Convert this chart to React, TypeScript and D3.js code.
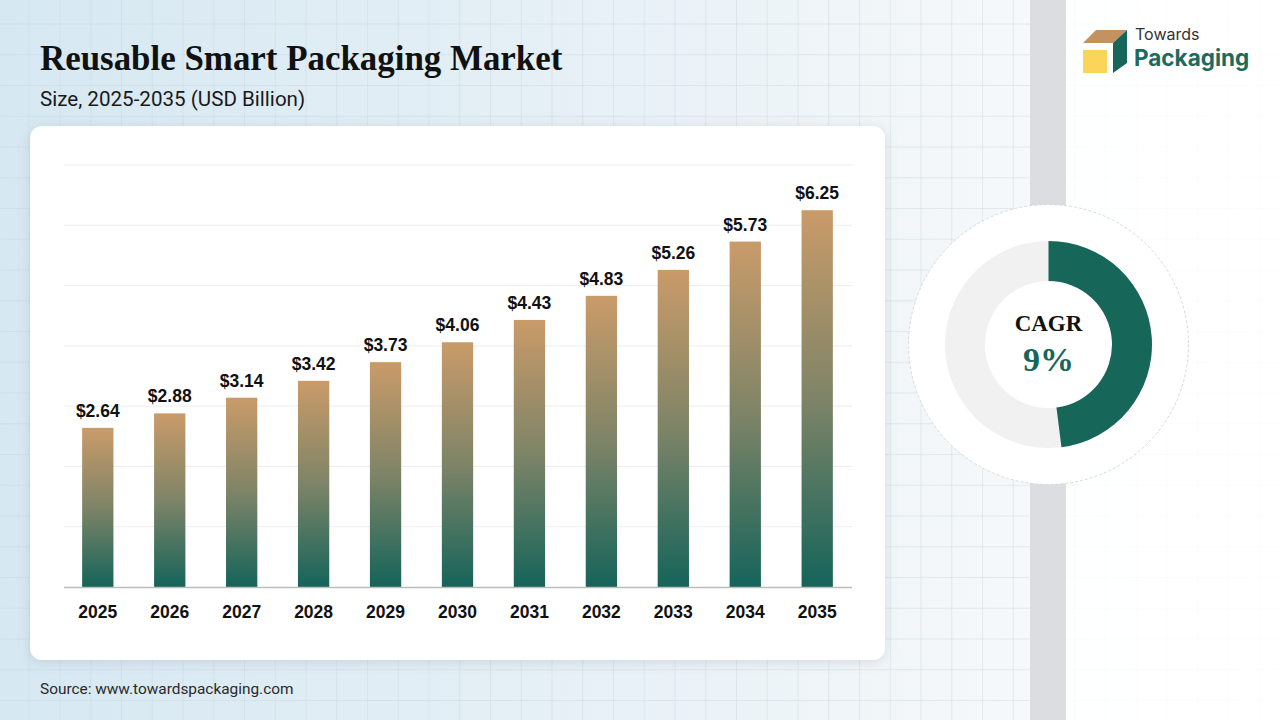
import { useEffect, useRef } from 'react';
import * as d3 from 'd3';

const years = ['2025', '2026', '2027', '2028', '2029', '2030', '2031', '2032', '2033', '2034', '2035'];
const marketSize = [2.64, 2.88, 3.14, 3.42, 3.73, 4.06, 4.43, 4.83, 5.26, 5.73, 6.25];
const yTicks = [0, 1, 2, 3, 4, 5, 6, 7];
const cagrLabel = 'CAGR';
const cagrValue = '9%';
const cagrArcShare = [0.48];

const W = 1280;
const H = 720;

export default function App() {
  const svgRef = useRef<SVGSVGElement>(null);

  useEffect(() => {
    if (!svgRef.current) return;
    const svg = d3.select(svgRef.current);
    svg.selectAll('*').remove();

    const defs = svg.append('defs');

    // page background
    const bg = defs.append('linearGradient').attr('id', 'bg').attr('x1', 0).attr('x2', 1).attr('y1', 0).attr('y2', 0);
    bg.append('stop').attr('offset', '0%').attr('stop-color', '#d6e8f2');
    bg.append('stop').attr('offset', '45%').attr('stop-color', '#e6f0f6');
    bg.append('stop').attr('offset', '78%').attr('stop-color', '#f5f8fa');
    bg.append('stop').attr('offset', '100%').attr('stop-color', '#ffffff');

    const barGrad = defs.append('linearGradient').attr('id', 'barGrad').attr('x1', 0).attr('x2', 0).attr('y1', 0).attr('y2', 1);
    barGrad.append('stop').attr('offset', '0%').attr('stop-color', '#ca9b69');
    barGrad.append('stop').attr('offset', '50%').attr('stop-color', '#7e8467');
    barGrad.append('stop').attr('offset', '100%').attr('stop-color', '#15645a');

    const shadow = defs.append('filter').attr('id', 'shadow').attr('x', '-10%').attr('y', '-10%').attr('width', '120%').attr('height', '120%');
    shadow.append('feDropShadow').attr('dx', 0).attr('dy', 2).attr('stdDeviation', 6).attr('flood-color', '#7a8a96').attr('flood-opacity', 0.25);

    svg.append('rect').attr('width', W).attr('height', H).attr('fill', 'url(#bg)');

    // faint background grid
    const gridStep = 30.75;
    const grid = svg.append('g').attr('stroke', '#c9d6de').attr('stroke-opacity', 0.45).attr('stroke-width', 1);
    d3.range(-1.5, W, gridStep).forEach(x => {
      grid.append('line').attr('x1', x).attr('x2', x).attr('y1', 0).attr('y2', H);
    });
    d3.range(24, H, gridStep).forEach(y => {
      grid.append('line').attr('x1', 0).attr('x2', W).attr('y1', y).attr('y2', y);
    });

    // right panel
    svg.append('rect').attr('x', 1066).attr('y', 0).attr('width', W - 1066).attr('height', H).attr('fill', '#ffffff').attr('fill-opacity', 0.85);
    svg.append('rect').attr('x', 1030).attr('y', 0).attr('width', 36).attr('height', H).attr('fill', '#dcdde1');

    // titles
    svg.append('text').attr('x', 40).attr('y', 70)
      .attr('font-family', '"Liberation Serif", "DejaVu Serif", serif').attr('font-weight', 700).attr('font-size', 34.9)
      .attr('fill', '#111').text('Reusable Smart Packaging Market');
    svg.append('text').attr('x', 40).attr('y', 106)
      .attr('font-family', 'Roboto, sans-serif').attr('font-size', 20.6)
      .attr('fill', '#1a1a1a').text('Size, 2025-2035 (USD Billion)');

    // card
    svg.append('rect').attr('x', 30).attr('y', 126).attr('width', 855).attr('height', 534).attr('rx', 12)
      .attr('fill', '#fff').attr('filter', 'url(#shadow)');

    const plotTop = 165;
    const plotBottom = 587;
    const x = d3.scaleBand().domain(years).range([62, 853]).paddingInner(0.565).paddingOuter(0.28);
    const y = d3.scaleLinear().domain([0, 7]).range([plotBottom, plotTop]);

    const plot = svg.append('g');
    plot.selectAll('.grid').data(yTicks.slice(1)).enter().append('line')
      .attr('x1', 64).attr('x2', 852).attr('y1', d => y(d)).attr('y2', d => y(d))
      .attr('stroke', '#ededed').attr('stroke-width', 1);

    plot.selectAll('.bar').data(marketSize).enter().append('rect')
      .attr('x', (_, i) => x(years[i]) || 0)
      .attr('y', d => y(d))
      .attr('width', x.bandwidth())
      .attr('height', d => plotBottom - y(d))
      .attr('fill', 'url(#barGrad)');

    plot.append('line').attr('x1', 64).attr('x2', 852).attr('y1', plotBottom + 0.5).attr('y2', plotBottom + 0.5)
      .attr('stroke', '#bdbdbd').attr('stroke-width', 1.5);

    plot.selectAll('.val').data(marketSize).enter().append('text')
      .attr('x', (_, i) => (x(years[i]) || 0) + x.bandwidth() / 2)
      .attr('y', d => y(d) - 11)
      .attr('text-anchor', 'middle')
      .attr('font-family', '"Liberation Sans", Arial, sans-serif').attr('font-weight', 700).attr('font-size', 17.5)
      .attr('fill', '#111')
      .text(d => `$${d.toFixed(2)}`);

    plot.selectAll('.yr').data(years).enter().append('text')
      .attr('x', d => (x(d) || 0) + x.bandwidth() / 2)
      .attr('y', 618)
      .attr('text-anchor', 'middle')
      .attr('font-family', '"Liberation Sans", Arial, sans-serif').attr('font-weight', 700).attr('font-size', 17.5)
      .attr('fill', '#111')
      .text(d => d);

    // source
    svg.append('text').attr('x', 40).attr('y', 694)
      .attr('font-family', 'Roboto, sans-serif').attr('font-size', 15.4)
      .attr('fill', '#2a2a2a').text('Source: www.towardspackaging.com');

    // CAGR donut
    const cx = 1048.5;
    const cy = 344.5;
    const donut = svg.append('g').attr('transform', `translate(${cx},${cy})`);
    donut.append('circle').attr('r', 140).attr('fill', '#fff')
      .attr('stroke', '#d9d9d9').attr('stroke-width', 1).attr('stroke-dasharray', '3,2');
    const arc = d3.arc<{ startAngle: number; endAngle: number }>().innerRadius(63.5).outerRadius(103.5);
    donut.append('path').attr('d', arc({ startAngle: 0, endAngle: Math.PI * 2 }) || '').attr('fill', '#f1f1f1');
    donut.append('path').attr('d', arc({ startAngle: 0, endAngle: Math.PI * 2 * cagrArcShare[0] }) || '').attr('fill', '#17665a');
    donut.append('text').attr('y', -14).attr('text-anchor', 'middle')
      .attr('font-family', '"Liberation Serif", "DejaVu Serif", serif').attr('font-weight', 700).attr('font-size', 23)
      .attr('fill', '#111').text(cagrLabel);
    donut.append('text').attr('y', 26).attr('text-anchor', 'middle')
      .attr('font-family', '"Liberation Serif", "DejaVu Serif", serif').attr('font-weight', 700).attr('font-size', 34)
      .attr('fill', '#17665a').text(cagrValue);

    // logo
    const logo = svg.append('g');
    logo.append('polygon').attr('points', '1083,43 1096,30 1127,30 1113,43').attr('fill', '#c4925e');
    logo.append('rect').attr('x', 1083).attr('y', 50).attr('width', 24).attr('height', 23).attr('fill', '#fbd55a');
    logo.append('polygon').attr('points', '1113,43 1127,30 1127,63 1113,73').attr('fill', '#17665a');
    logo.append('text').attr('x', 1135).attr('y', 39.5)
      .attr('font-family', 'Inter, sans-serif').attr('font-size', 16).attr('fill', '#333')
      .text('Towards');
    logo.append('text').attr('x', 1134).attr('y', 66)
      .attr('font-family', 'Inter, sans-serif').attr('font-weight', 700).attr('font-size', 22.5).attr('fill', '#1d6b5c')
      .text('Packaging');
  }, []);

  return (
    <div style={{ position: 'absolute', left: 0, top: 0, width: W, height: H }}>
      <svg ref={svgRef} width={W} height={H} style={{ display: 'block' }} />
    </div>
  );
}
